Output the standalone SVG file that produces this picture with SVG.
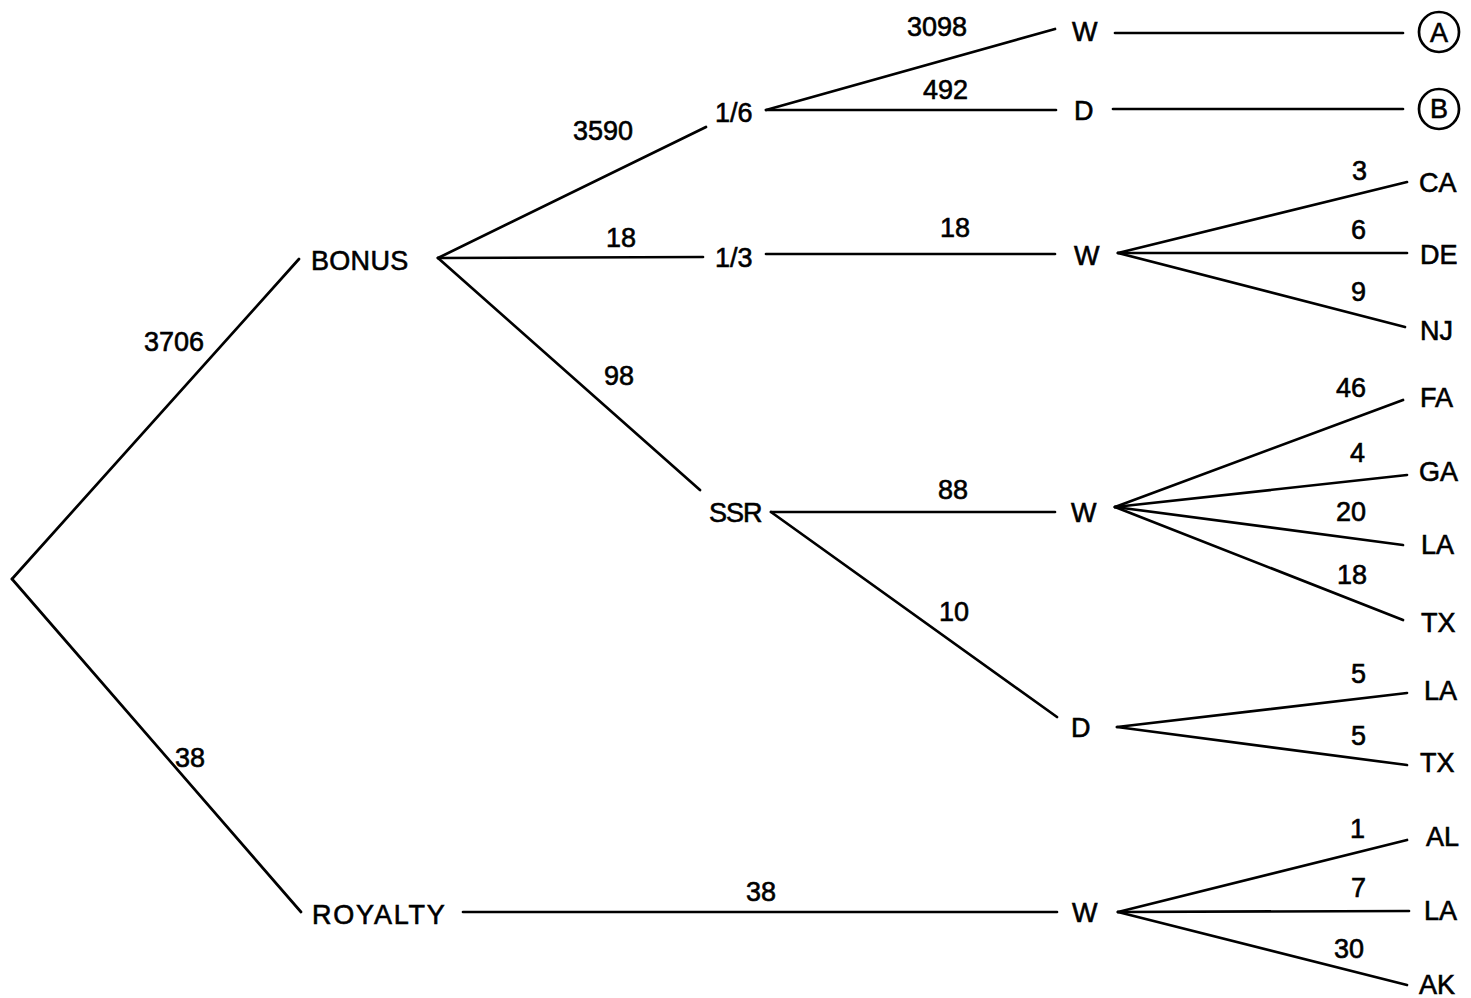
<svg xmlns="http://www.w3.org/2000/svg" width="1471" height="998" viewBox="0 0 1471 998">
  <style>
    .edge { stroke: #000; stroke-width: 2.7; fill: none; stroke-linecap: round; }
    .lbl, .node { font-family: "Liberation Sans", Arial, sans-serif; font-size: 27px; fill: #000; stroke: #000; stroke-width: 0.6; }
    .ring { stroke: #000; stroke-width: 2.7; fill: none; }
  </style>
  <rect width="1471" height="998" fill="#fff"/>

  <!-- branches of the tree -->
  <g id="connectors">
    <line class="edge" x1="12" y1="579" x2="299" y2="259"/>
    <line class="edge" x1="12" y1="579" x2="301" y2="912"/>

    <line class="edge" x1="438" y1="258" x2="706" y2="127"/>
    <line class="edge" x1="438" y1="258" x2="703" y2="257"/>
    <line class="edge" x1="438" y1="258" x2="700" y2="490"/>

    <line class="edge" x1="766" y1="110" x2="1055" y2="29"/>
    <line class="edge" x1="766" y1="110" x2="1056" y2="110"/>
    <line class="edge" x1="1115" y1="33" x2="1403" y2="33"/>
    <line class="edge" x1="1113" y1="109" x2="1403" y2="109"/>

    <line class="edge" x1="766" y1="254" x2="1055" y2="254"/>
    <line class="edge" x1="1118" y1="253" x2="1407" y2="182"/>
    <line class="edge" x1="1118" y1="253" x2="1407" y2="253"/>
    <line class="edge" x1="1118" y1="253" x2="1405" y2="327"/>

    <line class="edge" x1="771" y1="512" x2="1055" y2="512"/>
    <line class="edge" x1="771" y1="512" x2="1057" y2="717"/>
    <line class="edge" x1="1115" y1="507" x2="1403" y2="400"/>
    <line class="edge" x1="1115" y1="507" x2="1407" y2="475"/>
    <line class="edge" x1="1115" y1="507" x2="1403" y2="545"/>
    <line class="edge" x1="1115" y1="507" x2="1403" y2="620"/>

    <line class="edge" x1="1117" y1="727" x2="1407" y2="693"/>
    <line class="edge" x1="1117" y1="727" x2="1407" y2="765"/>

    <line class="edge" x1="463" y1="912" x2="1057" y2="912"/>
    <line class="edge" x1="1118" y1="912" x2="1407" y2="840"/>
    <line class="edge" x1="1118" y1="912" x2="1409" y2="911"/>
    <line class="edge" x1="1118" y1="912" x2="1407" y2="985"/>

    <!-- counts along the branches -->
    <text class="lbl" x="144" y="351">3706</text>
    <text class="lbl" x="175" y="767">38</text>
    <text class="lbl" x="573" y="140">3590</text>
    <text class="lbl" x="606" y="247">18</text>
    <text class="lbl" x="604" y="385">98</text>
    <text class="lbl" x="907" y="36">3098</text>
    <text class="lbl" x="923" y="99">492</text>
    <text class="lbl" x="940" y="237">18</text>
    <text class="lbl" x="938" y="499">88</text>
    <text class="lbl" x="939" y="621">10</text>
    <text class="lbl" x="746" y="901">38</text>
    <text class="lbl" x="1352" y="180">3</text>
    <text class="lbl" x="1351" y="239">6</text>
    <text class="lbl" x="1351" y="301">9</text>
    <text class="lbl" x="1336" y="397">46</text>
    <text class="lbl" x="1350" y="462">4</text>
    <text class="lbl" x="1336" y="521">20</text>
    <text class="lbl" x="1337" y="584">18</text>
    <text class="lbl" x="1351" y="683">5</text>
    <text class="lbl" x="1351" y="745">5</text>
    <text class="lbl" x="1350" y="838">1</text>
    <text class="lbl" x="1351" y="897">7</text>
    <text class="lbl" x="1334" y="958">30</text>
  </g>

  <g id="bonus"><text class="node" x="311" y="270" letter-spacing="0.3">BONUS</text></g>
  <g id="royalty"><text class="node" x="312" y="924" letter-spacing="1.8">ROYALTY</text></g>

  <g id="sixth"><text class="node" x="715" y="122">1/6</text></g>
  <g id="third"><text class="node" x="715" y="267">1/3</text></g>
  <g id="ssr"><text class="node" x="709" y="522" letter-spacing="-1">SSR</text></g>

  <g id="sixth-w"><text class="node" x="1072" y="41">W</text></g>
  <g id="sixth-d"><text class="node" x="1074" y="120">D</text></g>
  <g id="third-w"><text class="node" x="1074" y="265">W</text></g>
  <g id="ssr-w"><text class="node" x="1071" y="522">W</text></g>
  <g id="ssr-d"><text class="node" x="1071" y="737">D</text></g>
  <g id="royalty-w"><text class="node" x="1072" y="922">W</text></g>

  <g id="ref-a">
    <circle class="ring" cx="1439" cy="32" r="20"/>
    <text class="node" x="1439" y="42" text-anchor="middle" font-size="25">A</text>
  </g>
  <g id="ref-b">
    <circle class="ring" cx="1439" cy="109" r="20"/>
    <text class="node" x="1439" y="118" text-anchor="middle" font-size="25">B</text>
  </g>

  <g id="ca"><text class="node" x="1419" y="192">CA</text></g>
  <g id="de"><text class="node" x="1420" y="264">DE</text></g>
  <g id="nj"><text class="node" x="1420" y="340">NJ</text></g>

  <g id="fa"><text class="node" x="1420" y="407">FA</text></g>
  <g id="ga"><text class="node" x="1419" y="481">GA</text></g>
  <g id="la-w"><text class="node" x="1421" y="554">LA</text></g>
  <g id="tx-w"><text class="node" x="1421" y="632">TX</text></g>

  <g id="la-d"><text class="node" x="1424" y="700">LA</text></g>
  <g id="tx-d"><text class="node" x="1420" y="772">TX</text></g>

  <g id="al"><text class="node" x="1426" y="846">AL</text></g>
  <g id="la-r"><text class="node" x="1424" y="920">LA</text></g>
  <g id="ak"><text class="node" x="1419" y="994">AK</text></g>
</svg>
